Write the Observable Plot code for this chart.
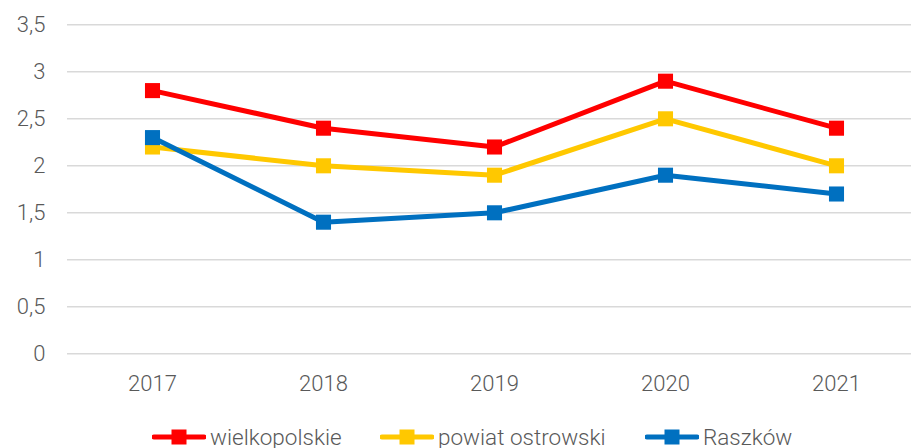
<!DOCTYPE html>
<html>
<head>
<meta charset="utf-8">
<script src="https://cdn.jsdelivr.net/npm/d3@7"></script>
<script src="https://cdn.jsdelivr.net/npm/@observablehq/plot@0.6"></script>
<style>
  html, body { margin: 0; padding: 0; background: #fff; overflow: hidden; }
  #wrap { position: relative; width: 911px; height: 448px; font-family: Roboto, "Liberation Sans", sans-serif; font-weight: 300; }
  #chart svg { display: block; }
  #legend { position: relative; width: 911px; height: 34px; }
  .item { position: absolute; top: 0; height: 34px; display: flex; align-items: center; font-size: 22.5px; color: #595959; line-height: 1; }
  .item svg { margin-right: 4px; }
</style>
</head>
<body>
<div id="wrap">
  <div id="chart"></div>
  <div id="legend"></div>
</div>
<script>
const years = ["2017", "2018", "2019", "2020", "2021"];
const seriesNames = ["wielkopolskie", "powiat ostrowski", "Raszków"];
const seriesColors = ["#ff0000", "#ffc800", "#0070c0"];
const wielkopolskie = [2.8, 2.4, 2.2, 2.9, 2.4];
const powiatOstrowski = [2.2, 2.0, 1.9, 2.5, 2.0];
const raszkow = [2.3, 1.4, 1.5, 1.9, 1.7];
const yTicks = [0, 0.5, 1, 1.5, 2, 2.5, 3, 3.5];

const valuesBySeries = [wielkopolskie, powiatOstrowski, raszkow];
const data = [];
seriesNames.forEach((s, i) => {
  years.forEach((y, j) => data.push({series: s, year: y, value: valuesBySeries[i][j]}));
});

const fmt = d => String(d).replace(".", ",");

const chart = Plot.plot({
  width: 911,
  height: 420,
  marginLeft: 67,
  marginRight: 0,
  marginTop: 24,
  marginBottom: 67,
  style: { fontFamily: 'Roboto, "Liberation Sans", sans-serif', fontWeight: 300, fontSize: "22px", color: "#595959", background: "#fff" },
  x: { type: "point", domain: years, range: [152, 836.5], padding: 0 },
  y: { domain: [0, 3.5], range: [353.3, 24.3] },
  color: { domain: seriesNames, range: seriesColors },
  marks: [
    Plot.ruleY(yTicks, { stroke: "#d9d9d9", strokeWidth: 1.5 }),
    Plot.axisY(yTicks, { tickSize: 0, tickPadding: 22, tickFormat: fmt, label: null, fill: "#595959", fontSize: 22 }),
    Plot.axisX(years, { tickSize: 0, tickPadding: 22, label: null, fill: "#595959", fontSize: 22 }),
    Plot.line(data, { x: "year", y: "value", z: "series", stroke: "series", strokeWidth: 5, strokeLinejoin: "miter", strokeLinecap: "butt" }),
    Plot.dot(data, { x: "year", y: "value", fill: "series", symbol: "square", r: 8.5, stroke: null })
  ]
});
document.getElementById("chart").appendChild(chart);

const legend = document.getElementById("legend");
const lefts = [152, 380, 645];
seriesNames.forEach((s, i) => {
  const item = document.createElement("div");
  item.className = "item";
  item.style.left = lefts[i] + "px";
  item.innerHTML = `<svg width="54" height="16"><line x1="2" y1="8" x2="52" y2="8" stroke="${seriesColors[i]}" stroke-width="5" stroke-linecap="round"/><rect x="19.5" y="0.5" width="15" height="15" fill="${seriesColors[i]}"/></svg><span>${s}</span>`;
  legend.appendChild(item);
});
</script>
</body>
</html>
